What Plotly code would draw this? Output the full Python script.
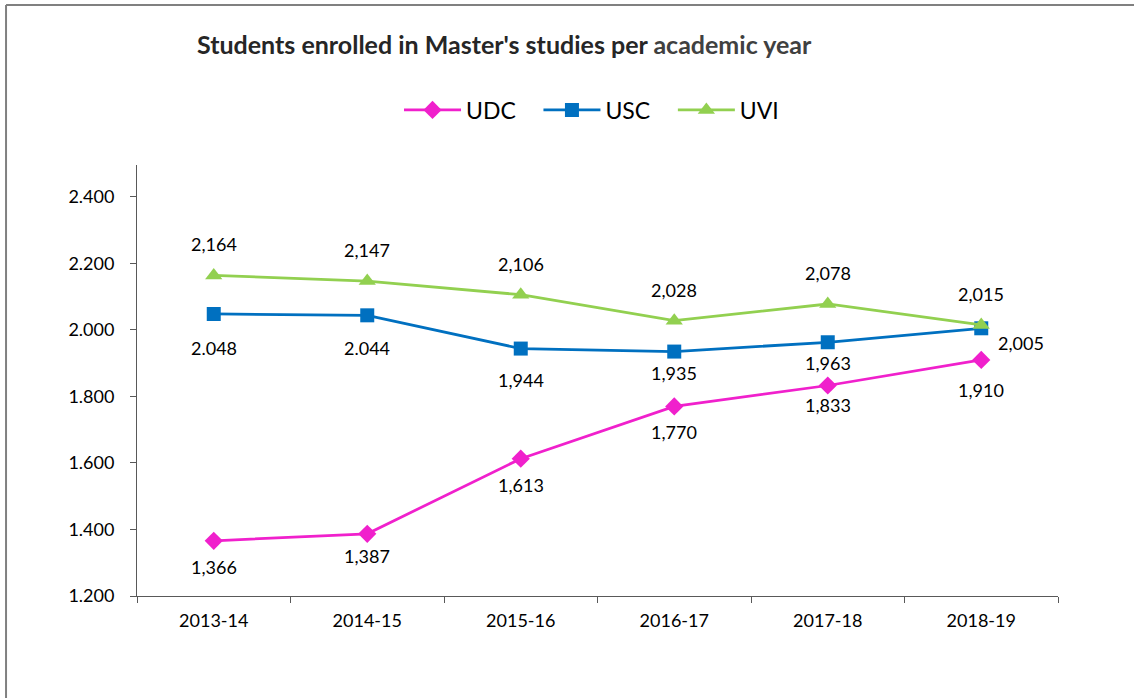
import plotly.graph_objects as go

years = ['2013-14', '2014-15', '2015-16', '2016-17', '2017-18', '2018-19']
udc = [1366, 1387, 1613, 1770, 1833, 1910]
usc = [2048, 2044, 1944, 1935, 1963, 2005]
uvi = [2164, 2147, 2106, 2028, 2078, 2015]

udc_labels = [f'{v:,}' for v in udc]
# the first two USC labels use a dot in the original
usc_labels = [f'{v:,}'.replace(',', '.') for v in usc[:2]] + [f'{v:,}' for v in usc[2:]]
uvi_labels = [f'{v:,}' for v in uvi]

FONT = 'Lato'
C_UDC = '#F020CC'
C_USC = '#0070C0'
C_UVI = '#92D050'
PAD = '\u00a0' * 3  # extra room between legend entries

fig = go.Figure()
fig.add_trace(go.Scatter(x=years, y=udc, name='UDC' + PAD, mode='lines+markers',
                         line=dict(color=C_UDC, width=2.75),
                         marker=dict(symbol='diamond', size=14, color=C_UDC)))
fig.add_trace(go.Scatter(x=years, y=usc, name='USC' + PAD, mode='lines+markers',
                         line=dict(color=C_USC, width=2.75),
                         marker=dict(symbol='square', size=14, color=C_USC)))
fig.add_trace(go.Scatter(x=years, y=uvi, name='UVI', mode='lines+markers',
                         line=dict(color=C_UVI, width=2.75),
                         marker=dict(symbol='triangle-up', size=15, color=C_UVI)))

# data labels
label_font = dict(family=FONT, size=18, color='#000000')
udc_shift = [-26, -22, -26, -26, -20, -30]
usc_shift = [-34, -33, -31, -21, -21, -15]
for i, yr in enumerate(years):
    fig.add_annotation(x=yr, y=udc[i], text=udc_labels[i], showarrow=False,
                       yshift=udc_shift[i], font=label_font)
    fig.add_annotation(x=yr, y=uvi[i], text=uvi_labels[i], showarrow=False,
                       yshift=31, font=label_font)
    fig.add_annotation(x=yr, y=usc[i], text=usc_labels[i], showarrow=False,
                       yshift=usc_shift[i], xshift=40 if i == len(years) - 1 else 0,
                       font=label_font)

# outer border (only the top and left edges are visible)
fig.add_shape(type='line', xref='paper', yref='paper', x0=-0.1422, x1=1.09,
              y0=1.3712, y1=1.3712, line=dict(color='#808080', width=2))
fig.add_shape(type='line', xref='paper', yref='paper', x0=-0.1422, x1=-0.1422,
              y0=1.3712, y1=-0.25, line=dict(color='#808080', width=2))

fig.update_layout(
    width=1134, height=698,
    margin=dict(l=137, r=76, t=165, b=102),
    paper_bgcolor='white', plot_bgcolor='white',
    separators=',.',
    font=dict(family=FONT, size=18, color='#000000'),
    title=dict(text="<b>Students enrolled in Master's studies per "
                    "<span style='color:#404040'>academic year</span></b>",
               x=197 / 1134, xanchor='left', y=1 - 45 / 698, yanchor='middle',
               font=dict(family=FONT, size=25, color='#262626')),
    showlegend=True,
    legend=dict(orientation='h', x=0.4935, xanchor='center', y=1.1276, yanchor='middle',
                font=dict(family=FONT, size=23, color='#000000'),
                itemwidth=57, bgcolor='rgba(0,0,0,0)'),
    xaxis=dict(type='category', range=[-0.5, 5.5], tickson='boundaries',
               showline=True, linecolor='#595959', linewidth=1,
               ticks='outside', ticklen=6, tickcolor='#595959',
               ticklabelstandoff=8,
               showgrid=False, zeroline=False, fixedrange=True,
               tickfont=dict(family=FONT, size=18)),
    yaxis=dict(range=[1200, 2496], tickvals=[1200, 1400, 1600, 1800, 2000, 2200, 2400],
               tickformat=',d', showline=True, linecolor='#595959', linewidth=1,
               ticks='outside', ticklen=6, tickcolor='#595959',
               ticklabelstandoff=12,
               showgrid=False, zeroline=False, fixedrange=True,
               tickfont=dict(family=FONT, size=18)),
)

# drop the browser's default page margin so the figure sits at the top-left corner
fig.write_html('out.html', config={'displayModeBar': False},
               post_script="document.body.style.margin='0';")
